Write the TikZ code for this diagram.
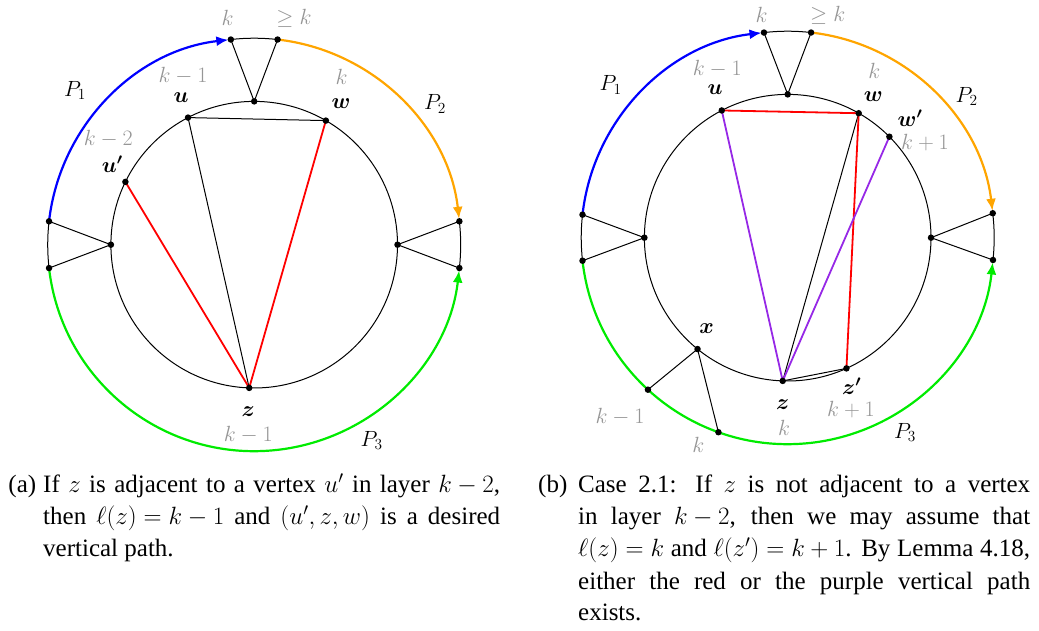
\RequirePackage{fix-cm}
\documentclass[tikz,border=0pt]{standalone}
\usepackage{fontspec}
\setmainfont{Liberation Serif}
\usepackage{amsmath}
\usetikzlibrary{arrows.meta,backgrounds}
\definecolor{lblgray}{RGB}{150,150,150}
\definecolor{pathorange}{RGB}{255,165,0}
\definecolor{pathgreen}{RGB}{0,235,0}
\definecolor{pathblue}{RGB}{0,0,255}
\definecolor{pathpurple}{RGB}{150,40,230}
\definecolor{pathred}{RGB}{255,0,0}
\def\innerR{143.3pt}
\def\outerR{206.5pt}
\tikzset{
  dot/.style={circle,fill=black,inner sep=0pt,minimum size=6.5pt},
  edge/.style={line width=1pt,black},
  cpath/.style={line width=2.2pt},
  tipped/.style={-{Latex[length=12pt,width=10pt]},shorten >=2.5pt},
  lbl/.style={font=\fontsize{22}{22}\selectfont,text=lblgray,inner sep=0pt},
  vlbl/.style={font=\fontsize{22}{22}\selectfont,inner sep=0pt},
  captext/.style={font=\fontsize{25}{32}\selectfont,anchor=base west,inner sep=0pt},
}
\begin{document}
\begin{tikzpicture}[x=1pt,y=1pt]
\useasboundingbox (0,0) rectangle (1039,631);
% ---------------- (a) ----------------
\begin{scope}[shift={(254.2,386.3)}]
  \coordinate (a-c) at (0,0);
  \node[dot] (a-ot1) at (96.5:\outerR) {};
  \node[dot] (a-ot2) at (83.5:\outerR) {};
  \node[dot] (a-it) at (90:\innerR) {};
  \node[dot] (a-ol1) at (173.5:\outerR) {};
  \node[dot] (a-ol2) at (186.5:\outerR) {};
  \node[dot] (a-il) at (180:\innerR) {};
  \node[dot] (a-or1) at (6.5:\outerR) {};
  \node[dot] (a-or2) at (-6.5:\outerR) {};
  \node[dot] (a-ir) at (0:\innerR) {};
  \node[dot] (a-u) at (117.5:\innerR) {};
  \node[dot] (a-w) at (60:\innerR) {};
  \node[dot] (a-up) at (154:\innerR) {};
  \node[dot] (a-z) at (268:\innerR) {};
  \begin{scope}[on background layer]
    \draw[edge] (a-c) circle[radius=\innerR];
    \draw[edge] (a-ot1.center) arc[start angle=96.5,end angle=83.5,radius=\outerR];
    \draw[edge] (a-ol1.center) arc[start angle=173.5,end angle=186.5,radius=\outerR];
    \draw[edge] (a-or2.center) arc[start angle=-6.5,end angle=6.5,radius=\outerR];
    \draw[cpath,pathblue,tipped] (a-ol1.center) arc[start angle=173.5,end angle=96.5,radius=\outerR];
    \draw[cpath,pathorange,tipped] (a-ot2.center) arc[start angle=83.5,end angle=6.5,radius=\outerR];
    \draw[cpath,pathgreen,tipped] (a-ol2.center) arc[start angle=186.5,end angle=353.5,radius=\outerR];
    \draw[edge] (a-ot1.center) -- (a-it.center) -- (a-ot2.center);
    \draw[edge] (a-ol1.center) -- (a-il.center) -- (a-ol2.center);
    \draw[edge] (a-or1.center) -- (a-ir.center) -- (a-or2.center);
    \draw[edge] (a-u.center) -- (a-w.center);
    \draw[edge] (a-u.center) -- (a-z.center);
    \draw[cpath,pathred,line width=1.8pt] (a-up.center) -- (a-z.center) -- (a-w.center);
  \end{scope}
\end{scope}
\node[lbl] (a-l1) at (227.7,612.7) {$k$};
\node[lbl] (a-l2) at (294,612.7) {$\geq k$};
\node[lbl] (a-l3) at (183,555) {$k-1$};
\node[lbl] (a-l4) at (341.7,553.7) {$k$};
\node[lbl] (a-l5) at (108.3,492.7) {$k-2$};
\node[lbl] (a-l6) at (248.3,196.7) {$k-1$};
\node[vlbl] (a-p1) at (75,540.3) {$P_1$};
\node[vlbl] (a-p2) at (435,527) {$P_2$};
\node[vlbl] (a-p3) at (371.7,190.3) {$P_3$};
\node[vlbl] (a-lu) at (181,533.7) {$\boldsymbol{u}$};
\node[vlbl] (a-lw) at (341,527) {$\boldsymbol{w}$};
\node[vlbl] (a-lup) at (112.3,466.7) {$\boldsymbol{u'}$};
\node[vlbl] (a-lz) at (248.3,219.3) {$\boldsymbol{z}$};
% ---------------- (b) ----------------
\begin{scope}[shift={(787.7,393.3)}]
  \coordinate (b-c) at (0,0);
  \node[dot] (b-ot1) at (96.6:\outerR) {};
  \node[dot] (b-ot2) at (83.5:\outerR) {};
  \node[dot] (b-it) at (90:\innerR) {};
  \node[dot] (b-ol1) at (173.6:\outerR) {};
  \node[dot] (b-ol2) at (186.4:\outerR) {};
  \node[dot] (b-il) at (180:\innerR) {};
  \node[dot] (b-or1) at (6.8:\outerR) {};
  \node[dot] (b-or2) at (-6.2:\outerR) {};
  \node[dot] (b-ir) at (0:\innerR) {};
  \node[dot] (b-u) at (117.4:\innerR) {};
  \node[dot] (b-w) at (60.3:\innerR) {};
  \node[dot] (b-wp) at (44.8:\innerR) {};
  \node[dot] (b-x) at (231:\innerR) {};
  \node[dot] (b-xo1) at (227.4:\outerR) {};
  \node[dot] (b-xo2) at (250.4:\outerR) {};
  \node[dot] (b-z) at (268:\innerR) {};
  \node[dot] (b-zp) at (294.2:\innerR) {};
  \begin{scope}[on background layer]
    \draw[edge] (b-c) circle[radius=\innerR];
    \draw[edge] (b-ot1.center) arc[start angle=96.6,end angle=83.5,radius=\outerR];
    \draw[edge] (b-ol1.center) arc[start angle=173.6,end angle=186.4,radius=\outerR];
    \draw[edge] (b-or2.center) arc[start angle=-6.2,end angle=6.8,radius=\outerR];
    \draw[cpath,pathblue,tipped] (b-ol1.center) arc[start angle=173.6,end angle=96.6,radius=\outerR];
    \draw[cpath,pathorange,tipped] (b-ot2.center) arc[start angle=83.5,end angle=6.8,radius=\outerR];
    \draw[cpath,pathgreen,tipped] (b-ol2.center) arc[start angle=186.4,end angle=353.8,radius=\outerR];
    \draw[edge] (b-ot1.center) -- (b-it.center) -- (b-ot2.center);
    \draw[edge] (b-ol1.center) -- (b-il.center) -- (b-ol2.center);
    \draw[edge] (b-or1.center) -- (b-ir.center) -- (b-or2.center);
    \draw[edge] (b-xo1.center) -- (b-x.center) -- (b-xo2.center);
    \draw[edge] (b-w.center) -- (b-z.center) -- (b-zp.center);
    \draw[cpath,pathred,line width=1.8pt] (b-u.center) -- (b-w.center) -- (b-zp.center);
    \draw[cpath,pathpurple,line width=1.8pt] (b-u.center) -- (b-z.center) -- (b-wp.center);
  \end{scope}
\end{scope}
\node[lbl] (b-l1) at (761.7,616) {$k$};
\node[lbl] (b-l2) at (827.7,616) {$\geq k$};
\node[lbl] (b-l3) at (717.3,562) {$k-1$};
\node[lbl] (b-l4) at (874.3,560.3) {$k$};
\node[lbl] (b-l5) at (925,488.3) {$k+1$};
\node[lbl] (b-l6) at (620,214.3) {$k-1$};
\node[lbl] (b-l7) at (698.3,186) {$k$};
\node[lbl] (b-l8) at (784,203.3) {$k$};
\node[lbl] (b-l9) at (851,221.5) {$k+1$};
\node[vlbl] (b-p1) at (610.7,546) {$P_1$};
\node[vlbl] (b-p2) at (966.7,534.3) {$P_2$};
\node[vlbl] (b-p3) at (905,198.3) {$P_3$};
\node[vlbl] (b-lu) at (715,541) {$\boldsymbol{u}$};
\node[vlbl] (b-lw) at (873.3,534.3) {$\boldsymbol{w}$};
\node[vlbl] (b-lwp) at (910,512.7) {$\boldsymbol{w'}$};
\node[vlbl] (b-lx) at (706.7,302.7) {$\boldsymbol{x}$};
\node[vlbl] (b-lz) at (782.7,226.7) {$\boldsymbol{z}$};
\node[vlbl] (b-lzp) at (851.7,245) {$\boldsymbol{z'}$};
% ---------------- captions ----------------
\node[captext] (ca-tag) at (8.3,138) {(a)};
\node[captext] (ca-1) at (43,138) {\makebox[457pt][s]{If $z$ is adjacent to a vertex $u'$ in layer \mbox{$k-2$},}};
\node[captext] (ca-2) at (43,106) {\makebox[457pt][s]{then \mbox{$\ell(z)=k-1$} and \mbox{$(u',z,w)$} is a desired}};
\node[captext] (ca-3) at (43,74) {vertical path.};
\node[captext] (cb-tag) at (538,138) {(b)};
\node[captext] (cb-1) at (578,138) {\makebox[452pt][s]{Case 2.1: If $z$ is not adjacent to a vertex}};
\node[captext] (cb-2) at (578,106) {\makebox[452pt][s]{in layer \mbox{$k-2$}, then we may assume that}};
\node[captext] (cb-3) at (578,74) {\makebox[452pt][s]{\mbox{$\ell(z)=k$} and \mbox{$\ell(z')=k+1$}. By Lemma 4.18,}};
\node[captext] (cb-4) at (578,41) {\makebox[452pt][s]{either the red or the purple vertical path}};
\node[captext] (cb-5) at (578,10) {exists.};
\end{tikzpicture}
\end{document}
